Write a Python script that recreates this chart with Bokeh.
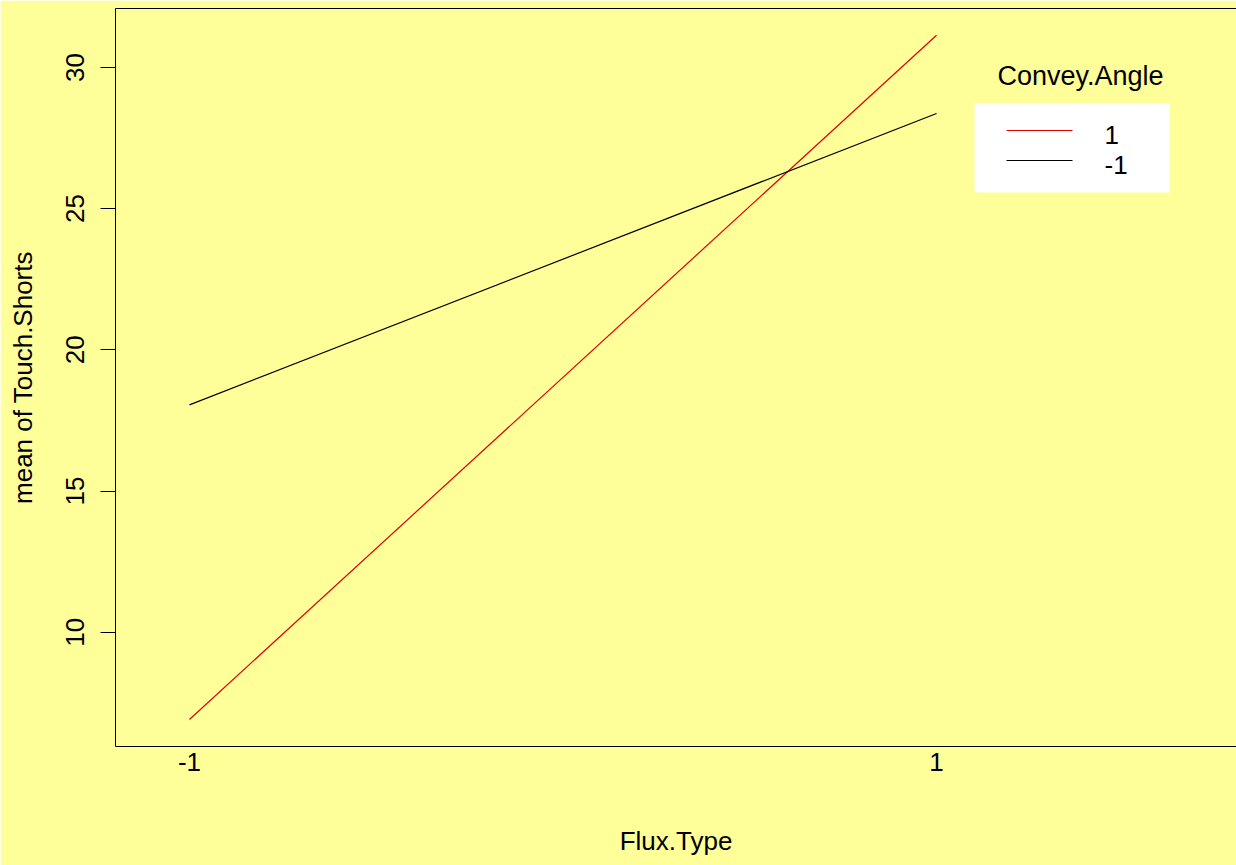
from bokeh.plotting import figure
from bokeh.models import (Range1d, FixedTicker, LinearAxis, BoxAnnotation, Label)
from bokeh.core.properties import value
from bokeh.embed import file_html
from bokeh.resources import INLINE

# ---- data ----
flux_levels = [-1, 1]
flux_tick_labels = ["-1", "1"]
angle_pos = [6.91, 31.14]      # Convey.Angle = 1
angle_neg = [18.05, 28.37]     # Convey.Angle = -1
series_labels = ["1", "-1"]
series_colors = ["#dd0000", "black"]
y_ticks = [10, 15, 20, 25, 30]

FONT = "Liberation Sans"
BG = "#FFFF99"

X0, X1 = -1.198, 1.803
Y0, Y1 = 5.953, 32.086

W, H = 1236, 865
FL, FT, FB = 115, 8, 746

p = figure(width=W, height=H, output_backend="svg", toolbar_location=None,
           x_range=Range1d(X0, X1), y_range=Range1d(Y0, Y1),
           min_border_left=FL, min_border_right=0, min_border_top=FT,
           min_border_bottom=H - FB, x_axis_location=None, y_axis_location=None)
p.background_fill_color = BG
p.border_fill_color = BG
p.outline_line_color = None
p.xgrid.visible = False
p.ygrid.visible = False

# left axis
ya = LinearAxis(ticker=FixedTicker(ticks=y_ticks), axis_label="mean of Touch.Shorts")
ya.major_tick_out = 15
ya.major_tick_in = 0
ya.minor_tick_out = 0
ya.minor_tick_in = 0
ya.major_label_orientation = "vertical"
ya.major_label_standoff = 16
ya.major_label_text_font = FONT
ya.major_label_text_font_size = "26px"
ya.major_label_text_color = "black"
ya.axis_label_text_font = FONT
ya.axis_label_text_font_size = "26px"
ya.axis_label_text_font_style = "normal"
ya.axis_label_text_color = "black"
ya.axis_label_standoff = 26
ya.axis_line_color = "black"
ya.major_tick_line_color = "black"
p.add_layout(ya, "left")

# bottom axis
xa = LinearAxis(ticker=FixedTicker(ticks=flux_levels), axis_label="Flux.Type")
xa.major_label_overrides = {lv: lb for lv, lb in zip(flux_levels, flux_tick_labels)}
xa.major_tick_out = 0
xa.major_tick_in = 0
xa.minor_tick_out = 0
xa.minor_tick_in = 0
xa.major_label_standoff = 6
xa.major_label_text_font = FONT
xa.major_label_text_font_size = "26px"
xa.major_label_text_color = "black"
xa.axis_label_text_font = FONT
xa.axis_label_text_font_size = "26px"
xa.axis_label_text_font_style = "normal"
xa.axis_label_text_color = "black"
xa.axis_label_standoff = 52
xa.axis_line_color = "black"
p.add_layout(xa, "below")

# top border (axis line only)
ta = LinearAxis(ticker=FixedTicker(ticks=[]))
ta.major_tick_out = 0
ta.major_tick_in = 0
ta.minor_tick_out = 0
ta.minor_tick_in = 0
ta.major_label_text_font_size = "0px"
ta.major_label_standoff = 0
ta.axis_line_color = "black"
p.add_layout(ta, "above")

p.line(flux_levels, angle_pos, line_color=series_colors[0], line_width=1.2)
p.line(flux_levels, angle_neg, line_color=series_colors[1], line_width=1.2)

# legend: white box + title + keys (placed in screen pixels converted to data)
def dx(px):
    return X0 + (px - FL) * (X1 - X0) / (W - FL)

def dy(py):
    return Y1 - (py - FT) * (Y1 - Y0) / (FB - FT)

p.add_layout(BoxAnnotation(left=dx(974), right=dx(1169), top=dy(103), bottom=dy(192),
                           fill_color="white", fill_alpha=1, line_color=None, level="underlay"))
p.add_layout(Label(x=dx(1080), y=dy(75), text="Convey.Angle", text_font=FONT,
                   text_font_size="27px", text_align="center", text_baseline="middle",
                   text_color="black"))

key_rows = [130, 160]
p.segment(x0=[dx(1006)] * 2, x1=[dx(1072)] * 2,
          y0=[dy(r) for r in key_rows], y1=[dy(r) for r in key_rows],
          line_color=series_colors, line_width=1.2)
p.text(x=[dx(1104)] * 2, y=[dy(r + 4) for r in key_rows], text=series_labels,
       text_font=value(FONT), text_font_size="26px", text_align="left",
       text_baseline="middle", text_color="black")

open("out.html", "w").write(file_html(p, INLINE))
